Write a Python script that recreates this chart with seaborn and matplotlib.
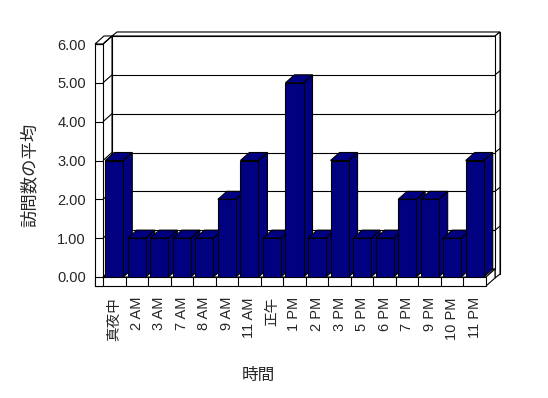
import matplotlib
matplotlib.use('Agg')
import matplotlib.pyplot as plt
from matplotlib.patches import Polygon
import seaborn as sns

hours = ['真夜中', '2 AM', '3 AM', '7 AM', '8 AM', '9 AM', '11 AM', '正午',
         '1 PM', '2 PM', '3 PM', '5 PM', '6 PM', '7 PM', '9 PM', '10 PM', '11 PM']
visits = [3, 1, 1, 1, 1, 2, 3, 1, 5, 1, 3, 1, 1, 2, 2, 1, 3]
yticks = [0, 1, 2, 3, 4, 5, 6]

sns.set_style('white')
plt.rcParams['font.family'] = ['Liberation Sans', 'Noto Sans CJK JP', 'DejaVu Sans']

navy = '#000080'
lw = 0.8

fig = plt.figure(figsize=(5.48, 3.98), dpi=100)
ax = fig.add_axes([103/548, (398-277)/398, 383/548, 233/398])

sns.barplot(x=hours, y=visits, color=navy, saturation=1, width=0.8,
            edgecolor='black', linewidth=lw, ax=ax)

x0, x1 = -0.5, len(hours) - 0.5
ymax = yticks[-1]
ax.set_xlim(x0, x1)
ax.set_ylim(0, ymax)

# pixel -> data units for the 3d look
ux = (x1 - x0) / 383
uy = ymax / 233
DX, DY = 9*ux, 8*uy      # depth
TX, TY = 5*ux, 4*uy      # wall thickness
LW = 8*ux                # left wall front width
FH = 9*uy                # floor thickness


def poly(pts, z, fc='white'):
    ax.add_patch(Polygon(pts, closed=True, facecolor=fc, edgecolor='black',
                         linewidth=lw, zorder=z, clip_on=False))


def line(xs, ys, z):
    ax.plot(xs, ys, color='black', lw=lw, zorder=z, clip_on=False,
            solid_capstyle='butt')


# back wall (back face, top band, right band, front face)
bx0, bx1 = x0 + DX, x1 + DX
bot = DY - FH
poly([(bx0+TX, bot+TY), (bx1+TX, bot+TY), (bx1+TX, ymax+DY+TY), (bx0+TX, ymax+DY+TY)], 0.5)
poly([(bx0, ymax+DY), (bx1, ymax+DY), (bx1+TX, ymax+DY+TY), (bx0+TX, ymax+DY+TY)], 0.6)
poly([(bx1, bot), (bx1, ymax+DY), (bx1+TX, ymax+DY+TY), (bx1+TX, bot+TY)], 0.6)
poly([(bx0, DY), (bx1, DY), (bx1, ymax+DY), (bx0, ymax+DY)], 0.7)
for k in yticks[1:-1]:
    line([bx0, bx1], [k+DY, k+DY], 0.8)
    line([bx1, bx1+TX], [k+DY, k+DY+TY], 0.8)

# floor
poly([(x0, 0), (x1, 0), (x1+DX, DY), (x0+DX, DY)], 1.0)
poly([(x1, -FH), (x1, 0), (x1+DX, DY), (x1+DX, DY-FH)], 1.0)
poly([(x0-LW, -FH), (x1, -FH), (x1, 0), (x0-LW, 0)], 1.0)
for i in range(1, len(hours)):
    line([x0+i, x0+i], [-FH, 0], 1.1)

# left wall
poly([(x0, 0), (x0, ymax), (x0+DX, ymax+DY), (x0+DX, DY)], 1.2)
poly([(x0-LW, ymax), (x0, ymax), (x0+DX, ymax+DY), (x0-LW+DX, ymax+DY)], 1.2)
poly([(x0-LW, -FH), (x0, -FH), (x0, ymax), (x0-LW, ymax)], 1.2)
for k in yticks:
    line([x0-LW, x0], [k, k], 1.3)
    line([x0, x0+DX], [k, k+DY], 1.3)

# 3d faces of the bars, drawn left to right
for i, bar in enumerate(ax.patches[:len(hours)]):
    xl = bar.get_x()
    xr = xl + bar.get_width()
    h = bar.get_height()
    z = 3 + 0.1*i
    poly([(xr, 0), (xr, h), (xr+DX, h+DY), (xr+DX, DY)], z, navy)
    poly([(xl, h), (xr, h), (xr+DX, h+DY), (xl+DX, h+DY)], z, navy)
    bar.set_zorder(z + 0.05)

for s in ax.spines.values():
    s.set_visible(False)
ax.grid(False)

ax.set_yticks(yticks)
ax.set_yticklabels([f'{v:.2f}' for v in yticks])
ax.tick_params(axis='y', length=0, pad=12.3, labelsize=10.5)
ax.tick_params(axis='x', length=0, pad=14.4, labelsize=10.5, labelrotation=90)

ax.set_xlabel('時間', fontsize=12)
ax.xaxis.set_label_coords((258-103)/383, (277-375)/233)
ax.xaxis.label.set_va('center')
ax.set_ylabel('訪問数の平均', fontsize=12.5)
ax.yaxis.set_label_coords((29-103)/383, (277-175)/233)
ax.yaxis.label.set_va('center')

fig.savefig('out.png', dpi=100)
